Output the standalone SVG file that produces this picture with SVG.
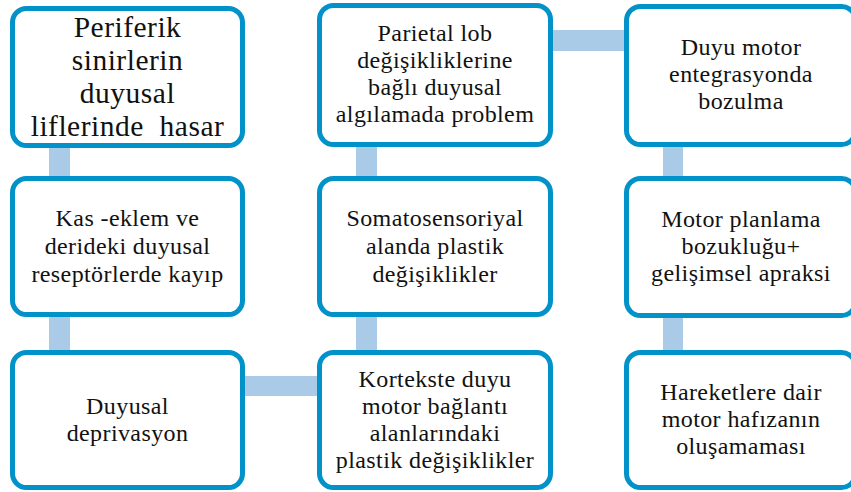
<svg xmlns="http://www.w3.org/2000/svg" width="851" height="492" viewBox="0 0 851 492">
<style>
.box{fill:#ffffff;stroke:#0092C8;stroke-width:5}
.con{stroke:#A9CBE8;fill:none}
text{font-family:'Liberation Serif',serif;fill:#111111;text-anchor:middle;font-size:24px;letter-spacing:0.4px}
.big{font-size:29.5px;letter-spacing:0.5px}
</style>
<rect width="851" height="492" fill="#ffffff"/>
<g id="connectors">
<line class="con" x1="59.5" y1="140" x2="59.5" y2="360" stroke-width="21"/>
<line class="con" x1="240" y1="386" x2="322" y2="386" stroke-width="20"/>
<line class="con" x1="366.5" y1="140" x2="366.5" y2="360" stroke-width="21"/>
<line class="con" x1="548" y1="40.5" x2="630" y2="40.5" stroke-width="21"/>
<line class="con" x1="673" y1="140" x2="673" y2="360" stroke-width="20"/>
</g>
<g id="n1">
<rect class="box" x="12.5" y="8.5" width="230" height="137" rx="14"/>
<text class="big" x="127.5" y="37" font-family="Liberation Serif">Periferik</text>
<text class="big" x="127.5" y="70" font-family="Liberation Serif">sinirlerin</text>
<text class="big" x="127.5" y="103" font-family="Liberation Serif">duyusal</text>
<text class="big" x="127.5" y="136" font-family="Liberation Serif" xml:space="preserve">liflerinde  hasar</text>
</g>
<g id="n2">
<rect class="box" x="12.5" y="178.5" width="230" height="136" rx="14"/>
<text x="127.5" y="226" font-family="Liberation Serif">Kas -eklem ve</text>
<text x="127.5" y="254" font-family="Liberation Serif">derideki duyusal</text>
<text x="127.5" y="282" font-family="Liberation Serif">reseptörlerde kayıp</text>
</g>
<g id="n3">
<rect class="box" x="12.5" y="352.5" width="230" height="135" rx="14"/>
<text x="127.5" y="414" font-family="Liberation Serif">Duyusal</text>
<text x="127.5" y="441" font-family="Liberation Serif">deprivasyon</text>
</g>
<g id="n4">
<rect class="box" x="319.5" y="352.5" width="231" height="135" rx="14"/>
<text x="435" y="387" font-family="Liberation Serif">Kortekste duyu</text>
<text x="435" y="414" font-family="Liberation Serif">motor bağlantı</text>
<text x="435" y="441" font-family="Liberation Serif">alanlarındaki</text>
<text x="435" y="468" font-family="Liberation Serif">plastik değişiklikler</text>
</g>
<g id="n5">
<rect class="box" x="319.5" y="178.5" width="231" height="136" rx="14"/>
<text x="435" y="226" font-family="Liberation Serif">Somatosensoriyal</text>
<text x="435" y="254" font-family="Liberation Serif">alanda plastik</text>
<text x="435" y="282" font-family="Liberation Serif">değişiklikler</text>
</g>
<g id="n6">
<rect class="box" x="319.5" y="5.5" width="231" height="139" rx="14"/>
<text x="435" y="41" font-family="Liberation Serif">Parietal lob</text>
<text x="435" y="68" font-family="Liberation Serif">değişikliklerine</text>
<text x="435" y="95" font-family="Liberation Serif">bağlı duyusal</text>
<text x="435" y="122" font-family="Liberation Serif">algılamada problem</text>
</g>
<g id="n7">
<rect class="box" x="626.5" y="6.5" width="229" height="138" rx="14"/>
<text x="741" y="55" font-family="Liberation Serif">Duyu motor</text>
<text x="741" y="82" font-family="Liberation Serif">entegrasyonda</text>
<text x="741" y="109" font-family="Liberation Serif">bozulma</text>
</g>
<g id="n8">
<rect class="box" x="626.5" y="178.5" width="229" height="137" rx="14"/>
<text x="741" y="227" font-family="Liberation Serif">Motor planlama</text>
<text x="741" y="254" font-family="Liberation Serif">bozukluğu+</text>
<text x="741" y="281" font-family="Liberation Serif">gelişimsel apraksi</text>
</g>
<g id="n9">
<rect class="box" x="626.5" y="352.5" width="229" height="135" rx="14"/>
<text x="741" y="400" font-family="Liberation Serif">Hareketlere dair</text>
<text x="741" y="427" font-family="Liberation Serif">motor hafızanın</text>
<text x="741" y="454" font-family="Liberation Serif">oluşamaması</text>
</g>
</svg>
